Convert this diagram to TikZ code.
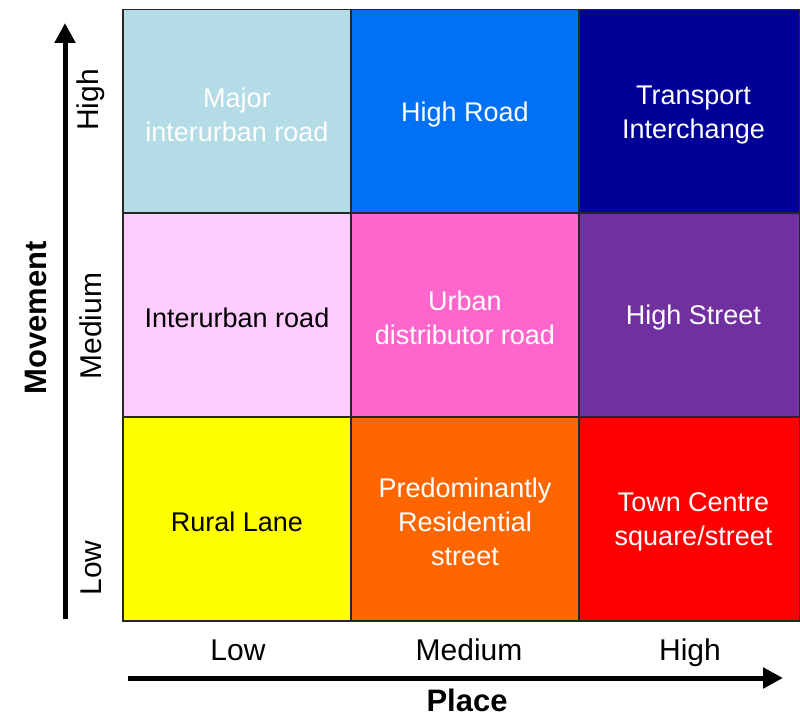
\documentclass[tikz,border=0pt]{standalone}
\usepackage{fontspec}
\setmainfont{Liberation Sans}
\usetikzlibrary{arrows.meta}
\definecolor{cMajor}{HTML}{B4DCE6}
\definecolor{cHighRoad}{HTML}{0070F5}
\definecolor{cTransport}{HTML}{000096}
\definecolor{cInter}{HTML}{FFCCFF}
\definecolor{cUrban}{HTML}{FF66CC}
\definecolor{cHighSt}{HTML}{7030A0}
\definecolor{cRural}{HTML}{FFFF00}
\definecolor{cResid}{HTML}{FF6600}
\definecolor{cTown}{HTML}{FF0000}
\tikzset{
  cell/.style={draw=black!85, line width=1.5pt, rectangle, inner sep=0pt},
  celltext/.style={align=center, inner sep=0pt, font=\fontsize{27}{34}\selectfont},
  wide/.style={minimum width=228pt},
  narrow/.style={minimum width=221pt},
  tall/.style={minimum height=203.5pt},
  axlabel/.style={font=\fontsize{30}{36}\selectfont, inner sep=0pt},
  axtitle/.style={font=\bfseries\fontsize{31}{36}\selectfont, inner sep=0pt},
  axis/.style={line width=5pt, -{Triangle[length=20pt,width=20pt]}}
}
\begin{document}
\begin{tikzpicture}[x=1pt,y=-1pt]
\useasboundingbox (0,0) rectangle (800,719);
% row 1
\node[cell,wide,tall,fill=cMajor] (c11) at (237,111.5) {};
\node[cell,wide,tall,fill=cHighRoad] (c12) at (465,111.5) {};
\node[cell,narrow,tall,fill=cTransport] (c13) at (689.5,111.5) {};
% row 2
\node[cell,wide,tall,fill=cInter] (c21) at (237,315) {};
\node[cell,wide,tall,fill=cUrban] (c22) at (465,315) {};
\node[cell,narrow,tall,fill=cHighSt] (c23) at (689.5,315) {};
% row 3
\node[cell,wide,tall,fill=cRural] (c31) at (237,519) {};
\node[cell,wide,tall,fill=cResid] (c32) at (465,519) {};
\node[cell,narrow,tall,fill=cTown] (c33) at (689.5,519) {};
% cell texts
\node[celltext,text=white] (t11) at ([yshift=-3.5pt]c11.center) {Major\\interurban road};
\node[celltext,text=white] (t12) at ([yshift=-3.5pt]c12.center) {High Road};
\node[celltext,text=white] (t13) at ([xshift=4pt,yshift=-3.5pt]c13.center) {Transport\\Interchange};
\node[celltext,text=black] (t21) at ([yshift=-3pt]c21.center) {Interurban road};
\node[celltext,text=white] (t22) at ([yshift=-3pt]c22.center) {Urban\\distributor road};
\node[celltext,text=white] (t23) at ([xshift=4pt,yshift=-3pt]c23.center) {High Street};
\node[celltext,text=black] (t31) at ([yshift=-2.5pt]c31.center) {Rural Lane};
\node[celltext,text=white] (t32) at ([yshift=-2.5pt]c32.center) {Predominantly\\Residential\\street};
\node[celltext,text=white] (t33) at ([xshift=4pt,yshift=-2.5pt]c33.center) {Town Centre\\square/street};
% vertical axis
\coordinate (vstart) at (65,619);
\coordinate (vend) at (65,23);
\draw[axis] (vstart) -- (vend);
\node[axlabel,rotate=90] (vhigh) at (91,100) {High};
\node[axlabel,rotate=90] (vmed) at (91,326) {Medium};
\node[axlabel,rotate=90] (vlow) at (91,568) {Low};
\node[axtitle,rotate=90] (vtitle) at (36,318) {Movement};
% horizontal axis
\coordinate (hstart) at (128,678);
\coordinate (hend) at (783,678);
\draw[axis] (hstart) -- (hend);
\node[axlabel,anchor=base] (hlow) at (238,660) {Low};
\node[axlabel,anchor=base] (hmed) at (469,660) {Medium};
\node[axlabel,anchor=base] (hhigh) at (690,660) {High};
\node[axtitle,anchor=base] (htitle) at (467,711) {Place};
\end{tikzpicture}
\end{document}
